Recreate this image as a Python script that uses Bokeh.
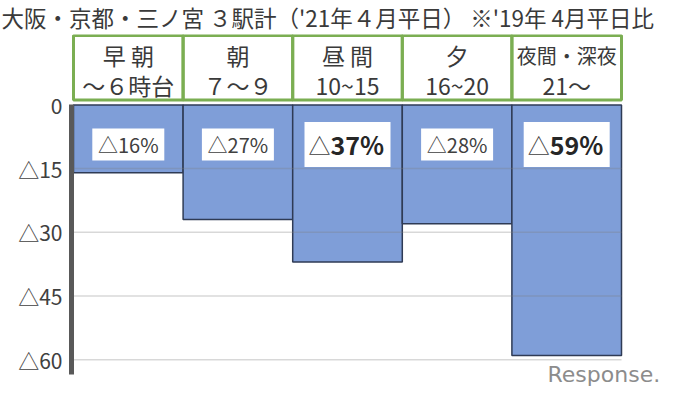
from bokeh.plotting import figure
from bokeh.models import Range1d, FixedTicker, Label
from bokeh.core.properties import value
from bokeh.embed import file_html
from bokeh.resources import INLINE

# ---- data ----
title_text = "大阪・京都・三ノ宮 ３駅計（'21年４月平日） ※'19年 4月平日比"
periods = ["早朝", "朝", "昼間", "夕", "夜間・深夜"]
header_top = ["早 朝", "朝", "昼 間", "夕", "夜間・深夜"]
header_hours = ["～６時台", "７～９", "10~15", "16~20", "21～"]
decline_pct = [16, 27, 37, 28, 59]
highlight = [False, False, True, False, True]
y_ticks = [0, 15, 30, 45, 60]
y_tick_labels = ["0", "△15", "△30", "△45", "△60"]
source_mark = "Response."

JP = "Noto Sans CJK JP"
TXT = "#3a3a3a"
BAR = "#7F9ED8"
GREEN = "#7BAE52"

n = len(periods)
xc = [i + 0.5 for i in range(n)]          # category centres on the x scale
PX = 109.6                                 # pixels per category
x0 = -2 / PX

p = figure(width=667, height=389,
           x_range=Range1d(x0, x0 + 596 / PX),
           y_range=Range1d(-67.0, 16.57),
           x_axis_location=None, toolbar_location=None,
           output_backend="svg",
           min_border_left=71, min_border_right=0,
           min_border_top=31, min_border_bottom=0,
           outline_line_color=None)
p.grid.visible = False

# title
p.title.text = title_text
p.title.align = "left"
p.title.offset = -70
p.title.text_font = JP
p.title.text_font_size = "22.5px"
p.title.text_font_style = "normal"
p.title.text_color = TXT
p.title.standoff = 0
p.title.vertical_align = "top"

# header band: time-of-day boxes above the bars
HB, HT = 1.17, 16.34
p.vbar(x=xc, bottom=HB, top=HT, width=1.0, fill_color=None,
       line_color=GREEN, line_width=3)
top_sizes = ["20px" if len(t) > 3 else "23px" for t in header_top]
p.text(x=xc, y=11.67, text=header_top, text_align="center",
       text_baseline="middle", text_font=value(JP),
       text_font_size=top_sizes, text_color=TXT)
p.text(x=xc, y=4.67, text=header_hours, text_align="center",
       text_baseline="middle", text_font=value(JP),
       text_font_size="23px", text_color=TXT)

# bars
p.vbar(x=xc, top=0, bottom=[-v for v in decline_pct], width=1.0,
       fill_color=BAR, line_color="#2F3B55", line_width=1.5)

# horizontal grid lines across the category band
grid_y = [-t for t in y_ticks[1:]]
p.segment(x0=[0] * len(grid_y), x1=[n] * len(grid_y), y0=grid_y, y1=grid_y,
          line_color="#7f7f7f", line_alpha=0.3, line_width=1.5)

# y axis
p.yaxis.ticker = FixedTicker(ticks=[-t for t in y_ticks])
p.yaxis.bounds = (-63.5, 0)
p.yaxis.major_label_overrides = {-t: lab for t, lab in zip(y_ticks, y_tick_labels)}
p.yaxis.axis_line_width = 5
p.yaxis.axis_line_color = "#595959"
p.yaxis.major_tick_line_color = None
p.yaxis.minor_tick_line_color = None
p.yaxis.major_tick_out = 0
p.yaxis.major_label_standoff = 9
p.yaxis.major_label_text_font = JP
p.yaxis.major_label_text_font_size = "21px"
p.yaxis.major_label_text_color = "#404040"

# value labels in white boxes
label_y = -9.3
p.rect(x=xc, y=label_y,
       width=[86 if hl else 72 for hl in highlight],
       height=[45 if hl else 32 for hl in highlight],
       width_units="screen", height_units="screen",
       fill_color="white", line_color=None)

reg_x = [c for c, hl in zip(xc, highlight) if not hl]
reg_t = ["△%d%%" % v for v, hl in zip(decline_pct, highlight) if not hl]
bold_x = [c for c, hl in zip(xc, highlight) if hl]
bold_t = ["%d%%" % v for v, hl in zip(decline_pct, highlight) if hl]

p.text(x=reg_x, y=label_y, text=reg_t, text_align="center",
       text_baseline="middle", text_font=value(JP),
       text_font_size="20px", text_color="#404040")
p.text(x=bold_x, y=label_y, text=["△"] * len(bold_x), text_align="right",
       text_baseline="middle", text_font=value(JP), x_offset=-17,
       text_font_size="22px", text_color="#404040")
p.text(x=bold_x, y=label_y, text=bold_t, text_align="left",
       text_baseline="middle", text_font=value(JP), x_offset=-17,
       text_font_size="25px", text_font_style="bold", text_color="#262626")

logo = Label(x=4.325, y=-66.3, text=source_mark, text_font="DejaVu Sans",
             text_font_size="22px", text_color="#8c8c8c",
             text_baseline="bottom")
p.add_layout(logo)

open("out.html", "w").write(file_html(p, INLINE))
